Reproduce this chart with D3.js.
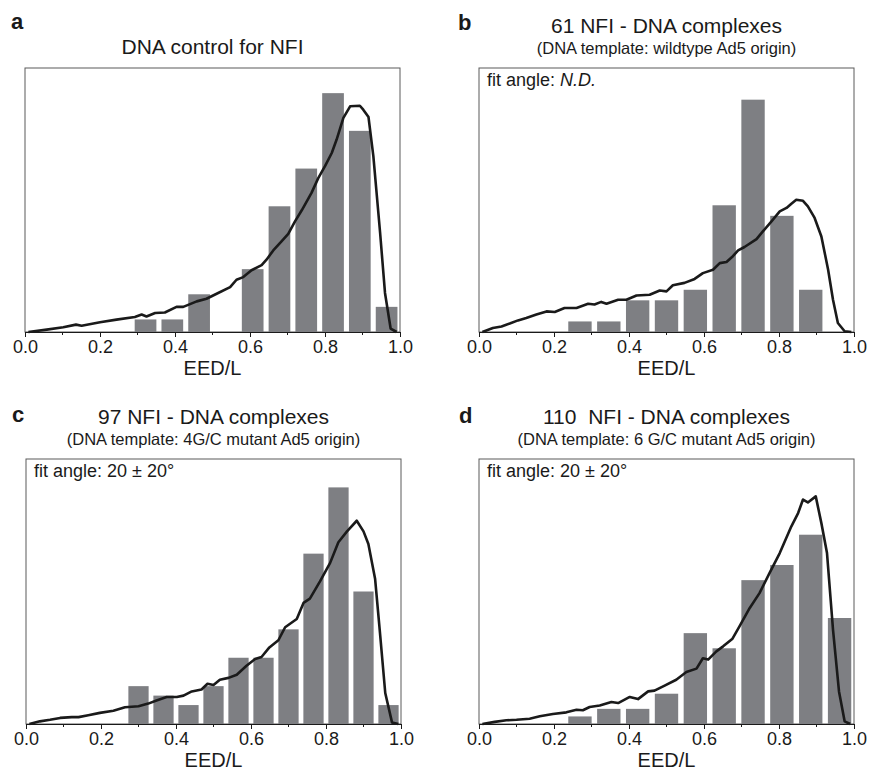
<!DOCTYPE html>
<html>
<head>
<meta charset="utf-8">
<script src="https://cdn.jsdelivr.net/npm/d3@7"></script>
<style>
  body { margin: 0; background: #fff; }
  text { font-family: "Liberation Sans", Arial, sans-serif; fill: #1a1a1a; }
</style>
</head>
<body>
<div id="chart"></div>
<script>
// histogram counts per bin (bins span 0..1 evenly)
const countsA = [0, 0, 0, 0, 1, 1, 3, 0, 5, 10, 13, 19, 16, 2];
const countsB = [0, 0, 0, 1, 1, 3, 3, 4, 12, 22, 11, 4, 0];
const countsC = [0, 0, 0, 0, 4, 3, 2, 4, 7, 7, 10, 18, 25, 14, 2];
const countsD = [0, 0, 0, 1, 2, 2, 4, 12, 10, 19, 21, 25, 14];

// top of y range in counts for each panel
const yMaxA = 21, yMaxB = 25, yMaxC = 28, yMaxD = 35;

// model curves: [EED/L, relative height (1 = top of frame)]
const curveA = [[0.009,0],[0.058,0.009],[0.102,0.018],[0.136,0.028],[0.151,0.024],[0.2,0.037],[0.244,0.047],[0.293,0.057],[0.311,0.066],[0.324,0.059],[0.347,0.072],[0.373,0.074],[0.404,0.095],[0.422,0.095],[0.458,0.116],[0.484,0.126],[0.511,0.145],[0.547,0.17],[0.564,0.198],[0.582,0.208],[0.604,0.234],[0.631,0.253],[0.644,0.274],[0.662,0.309],[0.684,0.343],[0.702,0.372],[0.72,0.419],[0.738,0.461],[0.764,0.527],[0.782,0.583],[0.8,0.628],[0.818,0.678],[0.831,0.729],[0.849,0.811],[0.867,0.855],[0.893,0.857],[0.902,0.842],[0.916,0.814],[0.929,0.665],[0.947,0.375],[0.96,0.148],[0.975,0.013],[0.991,0]];
const curveB = [[0.009,0],[0.037,0.015],[0.06,0.021],[0.082,0.032],[0.104,0.044],[0.126,0.053],[0.153,0.066],[0.18,0.078],[0.202,0.076],[0.228,0.091],[0.26,0.091],[0.291,0.107],[0.308,0.104],[0.326,0.114],[0.34,0.107],[0.371,0.122],[0.393,0.122],[0.42,0.138],[0.455,0.141],[0.482,0.157],[0.5,0.154],[0.517,0.177],[0.548,0.186],[0.575,0.201],[0.597,0.223],[0.624,0.236],[0.642,0.261],[0.66,0.265],[0.677,0.287],[0.691,0.309],[0.708,0.322],[0.74,0.352],[0.757,0.381],[0.78,0.419],[0.802,0.457],[0.82,0.47],[0.833,0.486],[0.846,0.501],[0.864,0.497],[0.877,0.476],[0.895,0.432],[0.913,0.362],[0.931,0.236],[0.944,0.122],[0.957,0.034],[0.975,0.003],[0.993,0]];
const curveC = [[0.009,0],[0.037,0.01],[0.064,0.016],[0.091,0.023],[0.122,0.026],[0.14,0.026],[0.166,0.033],[0.197,0.042],[0.233,0.05],[0.264,0.063],[0.3,0.067],[0.326,0.077],[0.348,0.089],[0.375,0.102],[0.402,0.102],[0.42,0.107],[0.442,0.123],[0.468,0.13],[0.484,0.152],[0.5,0.147],[0.517,0.167],[0.54,0.174],[0.562,0.186],[0.588,0.22],[0.611,0.245],[0.628,0.253],[0.649,0.289],[0.673,0.316],[0.691,0.365],[0.722,0.396],[0.74,0.457],[0.757,0.473],[0.784,0.538],[0.811,0.608],[0.833,0.686],[0.856,0.727],[0.882,0.767],[0.9,0.727],[0.913,0.679],[0.931,0.547],[0.944,0.343],[0.958,0.117],[0.976,0.006],[0.993,0]];
const curveD = [[0.009,0],[0.042,0.008],[0.073,0.014],[0.1,0.016],[0.135,0.02],[0.162,0.029],[0.197,0.038],[0.233,0.044],[0.26,0.054],[0.277,0.052],[0.295,0.064],[0.322,0.07],[0.353,0.083],[0.371,0.079],[0.402,0.102],[0.424,0.094],[0.451,0.123],[0.468,0.126],[0.495,0.145],[0.526,0.167],[0.553,0.196],[0.58,0.209],[0.597,0.248],[0.611,0.243],[0.633,0.274],[0.651,0.293],[0.676,0.322],[0.695,0.369],[0.722,0.438],[0.748,0.494],[0.775,0.57],[0.802,0.645],[0.833,0.746],[0.851,0.796],[0.864,0.847],[0.877,0.836],[0.898,0.859],[0.913,0.758],[0.928,0.645],[0.944,0.356],[0.96,0.123],[0.975,0.01],[0.99,0]];

// text
const letters = ["a", "b", "c", "d"];
const titles = ["DNA control for NFI", "61 NFI - DNA complexes", "97 NFI - DNA complexes", "110  NFI - DNA complexes"];
const subtitles = ["", "(DNA template: wildtype Ad5 origin)", "(DNA template: 4G/C mutant Ad5 origin)", "(DNA template: 6 G/C mutant Ad5 origin)"];
const fitLabels = [null, ["fit angle: ", "N.D."], ["fit angle: 20 \u00b1 20\u00b0", ""], ["fit angle: 20 \u00b1 20\u00b0", ""]];
const majorTicks = [0, 0.2, 0.4, 0.6, 0.8, 1.0];
const minorTicks = [0.1, 0.3, 0.5, 0.7, 0.9];
const xLabel = "EED/L";

const panels = [
  { counts: countsA, yMax: yMaxA, curve: curveA, left: 25, top: 68, w: 375, h: 264, letterX: 11, letterY: 29 },
  { counts: countsB, yMax: yMaxB, curve: curveB, left: 479, top: 68, w: 375, h: 264, letterX: 458, letterY: 30 },
  { counts: countsC, yMax: yMaxC, curve: curveC, left: 26, top: 459, w: 375, h: 265, letterX: 12, letterY: 422 },
  { counts: countsD, yMax: yMaxD, curve: curveD, left: 479, top: 459, w: 375, h: 265, letterX: 459, letterY: 423 }
];

const svg = d3.select("#chart").append("svg")
  .attr("width", 870)
  .attr("height", 771);

panels.forEach((p, idx) => {
  const x = d3.scaleLinear().domain([0, 1]).range([0, p.w]);
  const yCount = d3.scaleLinear().domain([0, p.yMax]).range([p.h, 0]);
  const yRel = d3.scaleLinear().domain([0, 1]).range([p.h, 0]);

  // panel letter
  svg.append("text")
    .attr("x", p.letterX)
    .attr("y", p.letterY)
    .style("font-size", "22px")
    .style("font-weight", "bold")
    .text(letters[idx]);

  const g = svg.append("g").attr("transform", `translate(${p.left},${p.top})`);

  // titles
  if (subtitles[idx]) {
    g.append("text")
      .attr("x", p.w / 2).attr("y", -35)
      .attr("text-anchor", "middle")
      .style("font-size", "21px")
      .style("white-space", "pre")
      .text(titles[idx]);
    g.append("text")
      .attr("x", p.w / 2).attr("y", -14)
      .attr("text-anchor", "middle")
      .style("font-size", "16.5px")
      .text(subtitles[idx]);
  } else {
    g.append("text")
      .attr("x", p.w / 2).attr("y", -14)
      .attr("text-anchor", "middle")
      .style("font-size", "21px")
      .text(titles[idx]);
  }

  // frame
  g.append("rect")
    .attr("width", p.w)
    .attr("height", p.h)
    .attr("fill", "none")
    .attr("stroke", "#5a5a5a")
    .attr("stroke-width", 1);

  // bars
  const n = p.counts.length;
  const binW = 1 / n;
  const pad = binW * 0.095;
  g.selectAll("rect.bar")
    .data(p.counts.map((c, i) => ({ lo: i * binW, hi: (i + 1) * binW, c: c })).filter(d => d.c > 0))
    .enter().append("rect")
    .attr("class", "bar")
    .attr("x", d => x(d.lo + pad))
    .attr("width", d => x(d.hi - pad) - x(d.lo + pad))
    .attr("y", d => yCount(d.c))
    .attr("height", d => p.h - yCount(d.c))
    .attr("fill", "#7e7f83");

  // model curve
  const line = d3.line()
    .x(d => x(d[0]))
    .y(d => yRel(d[1]));
  g.append("path")
    .datum(p.curve)
    .attr("d", line)
    .attr("fill", "none")
    .attr("stroke", "#1a1a1a")
    .attr("stroke-width", 2.6)
    .attr("stroke-linejoin", "round");

  // x axis
  const axis = g.append("g")
    .attr("transform", `translate(0,${p.h})`)
    .call(d3.axisBottom(x).tickValues(majorTicks).tickFormat(d3.format(".1f")).tickSize(5).tickSizeOuter(0));
  axis.select(".domain").attr("stroke", "#1a1a1a");
  axis.selectAll(".tick line").attr("stroke", "#1a1a1a");
  axis.selectAll(".tick text")
    .attr("y", 8)
    .style("font-size", "18px")
    .style("font-family", "'Liberation Sans', Arial, sans-serif")
    .attr("fill", "#1a1a1a");

  g.append("g")
    .selectAll("line")
    .data(minorTicks).enter()
    .append("line")
    .attr("x1", d => x(d)).attr("x2", d => x(d))
    .attr("y1", p.h).attr("y2", p.h + 3)
    .attr("stroke", "#1a1a1a");

  // axis title
  g.append("text")
    .attr("x", p.w / 2)
    .attr("y", p.h + 43)
    .attr("text-anchor", "middle")
    .style("font-size", "20px")
    .text(xLabel);

  // fit angle note
  if (fitLabels[idx]) {
    const t = g.append("text")
      .attr("x", 8)
      .attr("y", 18)
      .style("font-size", "18px");
    t.append("tspan").text(fitLabels[idx][0]);
    if (fitLabels[idx][1]) t.append("tspan").style("font-style", "italic").text(fitLabels[idx][1]);
  }
});
</script>
</body>
</html>
